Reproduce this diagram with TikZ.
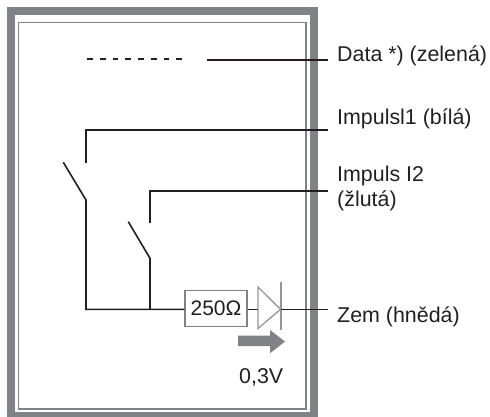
\documentclass[tikz,border=0pt]{standalone}
\usepackage{fontspec}
\setmainfont{Liberation Sans}
\definecolor{framegray}{RGB}{128,130,133}
\definecolor{diodegray}{RGB}{150,150,152}
\definecolor{ink}{RGB}{35,31,32}
\begin{document}
\begin{tikzpicture}[x=1pt,y=-1pt,
  wire/.style={ink, line width=1.6pt},
  lbl/.style={anchor=base west, inner sep=0pt, font=\fontsize{21.4}{25}\selectfont, text=ink},
  resbox/.style={draw=framegray, line width=1.5pt, minimum width=62pt, minimum height=36pt, inner sep=0pt, font=\fontsize{21}{25}\selectfont, text=ink},
  diodeline/.style={diodegray, line width=1.3pt},
  flow/.style={fill=framegray, draw=none}]
\useasboundingbox (0,0) rectangle (490,417);
% frame
\draw[framegray, line width=8pt] (11,11) rectangle (314,416);
\draw[framegray, line width=1.5pt] (18.5,22.5) rectangle (306,409);
% labels
\node[lbl] (data) at (337,62) {Data *) (zelená)};
\node[lbl] (imp1) at (337,125) {Impulsl1 (bílá)};
\node[lbl] (imp2) at (337,182) {Impuls I2};
\node[lbl] (imp2b) at (337,206) {(žlutá)};
\node[lbl] (zem) at (337,322) {Zem (hnědá)};
\node[lbl] (volt) at (239,383) {0,3V};
% coordinates
\coordinate (dataend) at (328,60.3);
\coordinate (datastart) at (207,60.3);
\coordinate (dashA) at (87.3,59);
\coordinate (dashB) at (183.3,59);
\coordinate (i1end) at (328,130);
\coordinate (i1corner) at (86,130);
\coordinate (i1contact) at (86,163);
\coordinate (s1free) at (63.3,162.3);
\coordinate (s1pivot) at (86,200);
\coordinate (s1bottom) at (86,309.3);
\coordinate (i2end) at (328,191);
\coordinate (i2corner) at (150,191);
\coordinate (i2contact) at (150,223.3);
\coordinate (s2free) at (128.3,221.7);
\coordinate (s2pivot) at (150,258.3);
\coordinate (s2bottom) at (150,309.3);
\coordinate (dL) at (258,309.3);
\coordinate (dTop) at (258,287);
\coordinate (dBot) at (258,328.5);
\coordinate (dTip) at (280.5,309.3);
\coordinate (barTop) at (281,282);
\coordinate (barBot) at (281,330);
\coordinate (zemend) at (328,309.3);
% resistor
\node[resbox] (res) at (216,308.5) {250Ω};
% data
\draw[wire, line width=1.5pt, dash pattern=on 5.7pt off 7pt] (dashA) -- (dashB);
\draw[wire] (datastart) -- (dataend);
% impulse 1
\draw[wire] (i1end) -- (i1corner) -- (i1contact);
\draw[wire] (s1free) -- (s1pivot) -- (s1bottom) -- (res.west |- s1bottom);
% impulse 2
\draw[wire] (i2end) -- (i2corner) -- (i2contact);
\draw[wire] (s2free) -- (s2pivot) -- (s2bottom);
% diode
\draw[wire] (res.east |- dL) -- (dL);
\draw[diodeline, line join=miter] (dTop) -- (dTip) -- (dBot) -- cycle;
\draw[diodeline] (barTop) -- (barBot);
\draw[wire] (dTip) -- (zemend);
% arrow
\fill[flow] (238,335.7) -- (270,335.7) -- (270,330) -- (285,341.5) -- (270,353.3) -- (270,346) -- (238,346) -- cycle;
\end{tikzpicture}
\end{document}
